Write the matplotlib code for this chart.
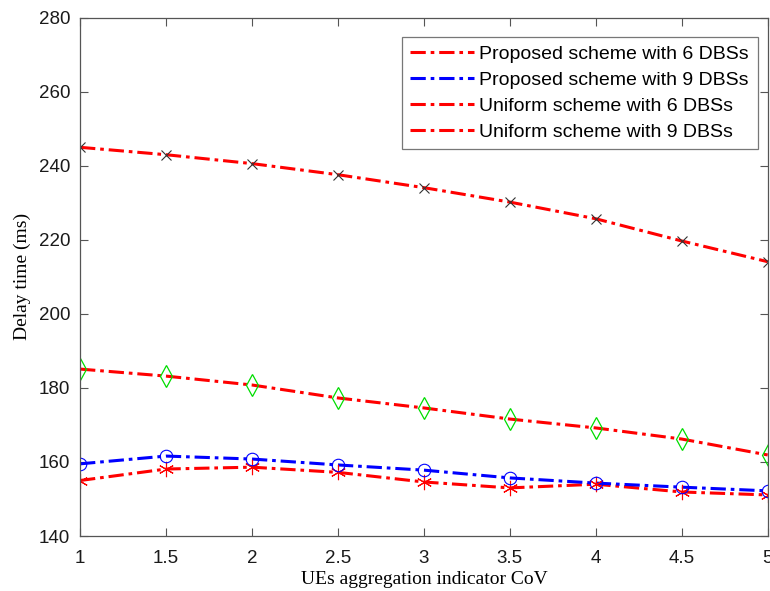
import matplotlib
matplotlib.use("Agg")
import matplotlib.pyplot as plt

cov = [1, 1.5, 2, 2.5, 3, 3.5, 4, 4.5, 5]
proposed_6 = [155.0, 158.1, 158.6, 157.2, 154.6, 153.0, 154.0, 151.9, 151.1]
proposed_9 = [159.5, 161.6, 160.8, 159.2, 157.8, 155.7, 154.3, 153.2, 152.2]
uniform_6 = [185.1, 183.2, 180.8, 177.3, 174.6, 171.6, 169.2, 166.2, 161.9]
uniform_9 = [245.0, 243.0, 240.6, 237.6, 234.1, 230.2, 225.7, 219.7, 214.1]
labels = ["Proposed scheme with 6 DBSs", "Proposed scheme with 9 DBSs",
          "Uniform scheme with 6 DBSs", "Uniform scheme with 9 DBSs"]

fig = plt.figure(figsize=(7.7, 5.91), dpi=100)
ax = fig.add_axes([0.104, 0.093, 0.893, 0.877])

ls = (0, (5, 1.6, 1.2, 1.6))
lw = 2.2
l1, = ax.plot(cov, proposed_6, color="red", ls=ls, lw=lw)
l2, = ax.plot(cov, proposed_9, color="blue", ls=ls, lw=lw)
l3, = ax.plot(cov, uniform_6, color="red", ls=ls, lw=lw)
l4, = ax.plot(cov, uniform_9, color="red", ls=ls, lw=lw)
ax.plot(cov, proposed_6, ls="none", marker=(6, 2, 0), ms=11, mfc="none", mec="red", mew=0.8)
ax.plot(cov, proposed_9, ls="none", marker="o", ms=9, mfc="none", mec="blue", mew=0.8)
ax.plot(cov, uniform_6, ls="none", marker="d", ms=11, mfc="none", mec="#00dd00", mew=0.9)
ax.plot(cov, uniform_9, ls="none", marker="x", ms=7, mfc="none", mec="#333333", mew=0.8)

ax.set_xlim(1, 5)
ax.set_ylim(140, 280)
ax.set_xticks(cov)
ax.set_xticklabels(["1", "1.5", "2", "2.5", "3", "3.5", "4", "4.5", "5"])
ax.set_yticks(range(140, 281, 20))
ax.tick_params(direction="in", top=True, right=True, length=6, width=0.8,
               labelsize=13.5, colors="#555555")
ax.tick_params(axis="x", pad=10)
ax.tick_params(axis="y", pad=7)
for lab in ax.get_xticklabels() + ax.get_yticklabels():
    lab.set_family("Liberation Sans")
    lab.set_color("#1a1a1a")
for s in ax.spines.values():
    s.set_color("#555555")
    s.set_linewidth(0.9)

ax.set_xlabel("UEs aggregation indicator CoV", family="Liberation Serif", fontsize=14, labelpad=3)
ax.set_ylabel("Delay time (ms)", family="Liberation Serif", fontsize=14, labelpad=6)

leg = ax.legend([l1, l2, l3, l4], labels, loc="upper right", bbox_to_anchor=(0.9855, 0.963),
                prop={"family": "Liberation Sans", "size": 14}, frameon=True, fancybox=False,
                handlelength=3.3, handletextpad=0.25, borderpad=0.45, labelspacing=0.42,
                borderaxespad=0)
leg.get_frame().set_edgecolor("#555555")
leg.get_frame().set_linewidth(0.9)

fig.savefig("out.png", dpi=100)
